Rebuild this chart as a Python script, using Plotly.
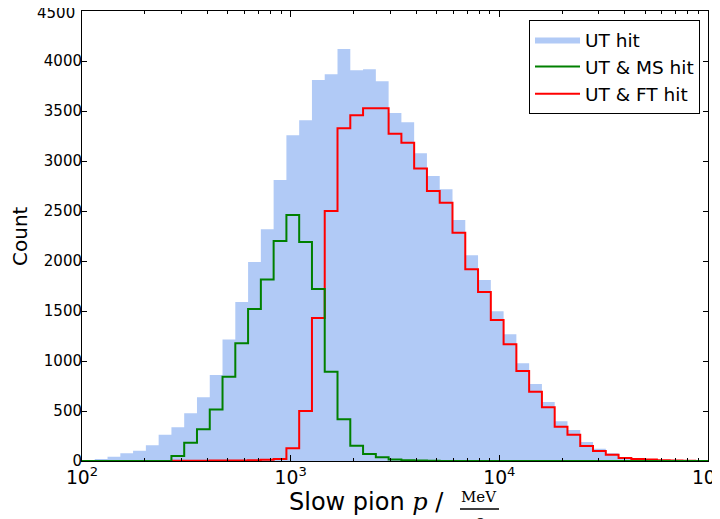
import numpy as np
import plotly.graph_objects as go

# bin edges: 49 log-spaced bins between 1e2 and 1e5 MeV/c
edges = np.logspace(2, 5, 50)

ut_hit = [5, 20, 43, 77, 103, 157, 263, 337, 477, 637,
          860, 1215, 1590, 1990, 2317, 2810, 3257, 3407, 3810, 3867,
          4120, 3907, 3917, 3797, 3480, 3387, 3077, 2850, 2717, 2410,
          2057, 1810, 1497, 1267, 977, 770, 590, 397, 310, 190,
          123, 77, 40, 27, 18, 10, 5, 3, 1]

ut_ms_hit = [0, 0, 0, 0, 0, 0, 0, 50, 183, 317,
             515, 843, 1177, 1520, 1815, 2200, 2460, 2190, 1720, 893,
             417, 153, 70, 37, 15, 8, 4, 2, 0, 0,
             0, 0, 0, 0, 0, 0, 0, 0, 0, 0,
             0, 0, 0, 0, 0, 0, 0, 0, 0]

ut_ft_hit = [0, 0, 0, 0, 0, 0, 0, 2, 3, 3,
             4, 5, 6, 8, 12, 20, 127, 500, 1430, 2500,
             3327, 3457, 3527, 3527, 3273, 3183, 2925, 2700, 2583, 2283,
             1917, 1690, 1410, 1167, 900, 693, 537, 343, 263, 150,
             100, 63, 30, 20, 15, 8, 4, 2, 1]

y_ticks = [0, 500, 1000, 1500, 2000, 2500, 3000, 3500, 4000, 4500]


def step_xy(counts):
    x = [edges[0]] + list(edges) + [edges[-1]]
    y = [0] + list(counts) + [counts[-1], 0]
    return x, y


fig = go.Figure()

x, y = step_xy(ut_hit)
fig.add_trace(go.Scatter(x=x, y=y, mode="lines", line_shape="hv",
                         line=dict(width=0, color="rgba(100,149,237,0.5)"),
                         fill="tozeroy", fillcolor="rgba(100,149,237,0.5)",
                         name="UT hit", legendrank=1))

x, y = step_xy(ut_ft_hit)
fig.add_trace(go.Scatter(x=x, y=y, mode="lines", line_shape="hv",
                         line=dict(width=2, color="#ff0000"),
                         name="UT &amp; FT hit", legendrank=3))

x, y = step_xy(ut_ms_hit)
fig.add_trace(go.Scatter(x=x, y=y, mode="lines", line_shape="hv",
                         line=dict(width=2, color="#008000"),
                         name="UT &amp; MS hit", legendrank=2))

# page body adds an 8px offset; compensate so the plot lands where it should
OFF = 8
W, H = 720 - OFF, 519 - OFF
L, T = 82 - OFF, 11 - OFF
R = 12
B = H - T - 450
pw, ph = W - L - R, H - T - B


def px(X):
    return (X - OFF - L) / pw


def py(Y):
    return (H - B - (Y - OFF)) / ph


# the top label would be clipped by the page edge, so it is drawn separately
y_text = [str(v) for v in y_ticks[:-1]] + [""]

fig.update_layout(
    width=W, height=H,
    margin=dict(l=L, r=R, t=T, b=B, autoexpand=False),
    plot_bgcolor="white", paper_bgcolor="white",
    font=dict(family="DejaVu Sans", size=14, color="black"),
    showlegend=True,
    legend=dict(x=px(700), y=py(20), xanchor="right", yanchor="top",
                bordercolor="black", borderwidth=1, bgcolor="white",
                font=dict(size=18.5, family="DejaVu Sans"),
                itemwidth=45, tracegroupgap=0, traceorder="normal"),
    xaxis=dict(type="log", range=[2, 5], dtick=1, exponentformat="power",
               showgrid=False, zeroline=False, automargin=False,
               ticklabeloverflow="allow",
               showline=True, linecolor="black", linewidth=1, mirror="allticks",
               ticks="inside", ticklen=6, tickcolor="black",
               tickfont=dict(size=15),
               minor=dict(dtick="D1", ticks="inside", ticklen=3,
                          tickcolor="black", showgrid=False)),
    yaxis=dict(range=[0, 4500], tickvals=y_ticks, ticktext=y_text,
               showgrid=False, zeroline=False,
               automargin=False, ticklabelstandoff=-4,
               ticklabeloverflow="allow",
               showline=True, linecolor="black", linewidth=1, mirror="allticks",
               ticks="inside", ticklen=5, tickcolor="black",
               tickfont=dict(size=15)),
)

fig.add_annotation(text=str(y_ticks[-1]), xref="paper", yref="paper",
                   x=px(77), y=py(13.5), xanchor="right", yanchor="middle",
                   showarrow=False, font=dict(size=15, family="DejaVu Sans"))

# axis labels
fig.add_annotation(text="Count", textangle=-90, xref="paper", yref="paper",
                   x=px(20), y=py(236), xanchor="center", yanchor="middle",
                   showarrow=False,
                   font=dict(size=20, family="DejaVu Sans"))
fig.add_annotation(text="Slow pion <i><span style=\"font-family:'DejaVu Serif'\">p</span></i> /",
                   xref="paper", yref="paper", x=px(287), y=py(502),
                   xanchor="left", yanchor="middle", showarrow=False,
                   font=dict(size=24, family="DejaVu Sans"))
fig.add_annotation(text="MeV", xref="paper", yref="paper", x=px(479), y=py(508),
                   xanchor="center", yanchor="bottom", showarrow=False,
                   font=dict(size=15, family="DejaVu Serif"))
fig.add_annotation(text="<i>c</i>", xref="paper", yref="paper", x=px(479), y=py(510),
                   xanchor="center", yanchor="top", showarrow=False,
                   font=dict(size=15, family="DejaVu Serif"))
fig.add_shape(type="line", xref="paper", yref="paper",
              x0=px(460), x1=px(499), y0=py(509), y1=py(509),
              line=dict(color="black", width=1.5))

fig.write_html("out.html")
